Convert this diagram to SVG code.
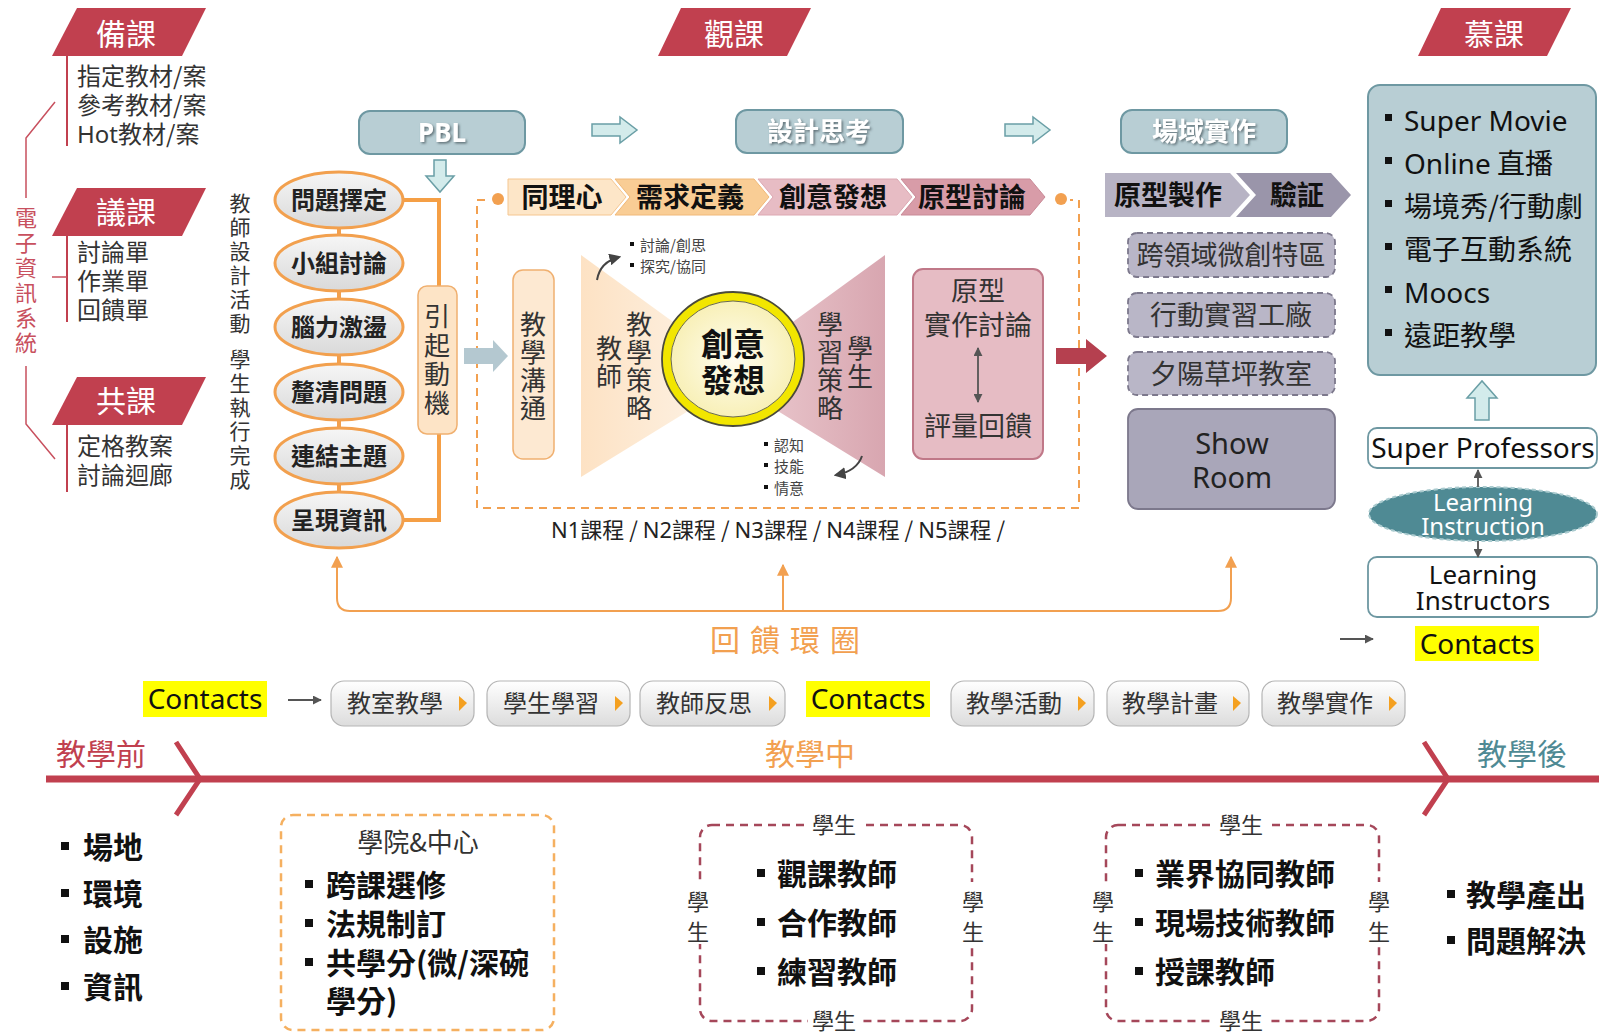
<svg xmlns="http://www.w3.org/2000/svg" width="1599" height="1033" viewBox="0 0 1599 1033">
<defs>
<style>
text{font-family:"Noto Sans CJK TC","Noto Sans",sans-serif;}
.lat{font-family:"Noto Sans","Noto Sans CJK TC",sans-serif;}
.ban{fill:#c1404f;}
.bant{fill:#fff;font-size:30px;text-anchor:middle;}
.rl{stroke:#c1404f;stroke-width:2;fill:none;}
.pl{stroke:#c8505e;stroke-width:1.5;fill:none;}
.lt{font-size:24px;fill:#333;}
.vt{font-size:21px;fill:#333;text-anchor:middle;}
.ell{fill:url(#gEll);stroke:#f2a04e;stroke-width:3;}
.et{font-size:24px;font-weight:bold;fill:#222;text-anchor:middle;}
.teal{fill:#b8ced4;stroke:#6e98a2;stroke-width:2;}
.tt{fill:#fff;font-size:26px;font-weight:bold;text-anchor:middle;filter:url(#sh);}
.harr{fill:#d3ebeb;stroke:#6a9fa6;stroke-width:1.5;}
.chv{font-size:27px;font-weight:bold;fill:#111;text-anchor:middle;}
.dsh{fill:#b9b6c7;stroke:#7c788c;stroke-width:1.8;stroke-dasharray:6 4;}
.dst{font-size:27px;fill:#333;text-anchor:middle;}
.pill{fill:url(#gPill);stroke:#b5b5b5;stroke-width:1.2;}
.pt{font-size:24px;fill:#333;}
.tri{fill:#f4a020;}
.cont{fill:#ffff00;}
.ct{font-size:28px;fill:#111;}
.bl{font-size:30px;font-weight:bold;fill:#111;}
.bu{fill:#111;}
.mbox{fill:none;stroke:#a5475a;stroke-width:2.5;stroke-dasharray:8 6;}
.st{font-size:22px;fill:#333;text-anchor:middle;}
.ol{stroke:#f2a050;stroke-width:2;fill:none;}
.gl{stroke:#555;stroke-width:1.8;fill:none;}
</style>
<linearGradient id="gEll" x1="0" y1="0" x2="0" y2="1"><stop offset="0" stop-color="#f6f6f6"/><stop offset="1" stop-color="#d9d9d9"/></linearGradient>
<linearGradient id="gPill" x1="0" y1="0" x2="0" y2="1"><stop offset="0" stop-color="#ffffff"/><stop offset="1" stop-color="#dcdcdc"/></linearGradient>
<linearGradient id="gL" x1="0" y1="0" x2="1" y2="0"><stop offset="0" stop-color="#fde2c4"/><stop offset="1" stop-color="#fdf0e0"/></linearGradient>
<linearGradient id="gR" x1="0" y1="0" x2="1" y2="0"><stop offset="0" stop-color="#e8c4ca"/><stop offset="1" stop-color="#d8a6b0"/></linearGradient>
<radialGradient id="gC"><stop offset="0" stop-color="#fffdf0"/><stop offset="1" stop-color="#f8f0b8"/></radialGradient>
<filter id="sh" x="-20%" y="-20%" width="140%" height="140%"><feDropShadow dx="1.5" dy="1.5" stdDeviation="1" flood-color="#4a5a60" flood-opacity="0.8"/></filter>
<marker id="mO" viewBox="0 0 10 10" refX="9" refY="5" markerWidth="6" markerHeight="6" orient="auto"><path d="M0,0 L10,5 L0,10 z" fill="#f2a050"/></marker>
<marker id="mG" viewBox="0 0 10 10" refX="9" refY="5" markerWidth="5" markerHeight="5" orient="auto-start-reverse"><path d="M0,0 L10,5 L0,10 z" fill="#555"/></marker>
<marker id="mD" viewBox="0 0 10 10" refX="8" refY="5" markerWidth="6" markerHeight="6" orient="auto"><path d="M0,0 L10,5 L0,10 z" fill="#444"/></marker>
</defs>
<rect width="1599" height="1033" fill="#fff"/>

<!-- Left: banners and lists -->
<g id="beike">
<polygon class="ban" points="77,8 206,8 182,56 52,56"/>
<text class="bant" x="126" y="45">備課</text>
<line class="rl" x1="67" y1="56" x2="67" y2="146"/>
<text class="lt" x="77" y="85">指定教材/案</text>
<text class="lt" x="77" y="114">參考教材/案</text>
<text class="lt lat" x="77" y="143">Hot<tspan style="font-family:'Noto Sans CJK TC',sans-serif">教材/案</tspan></text>
</g>
<g id="yike">
<polygon class="ban" points="77,188 206,188 182,236 52,236"/>
<text class="bant" x="126" y="223">議課</text>
<line class="rl" x1="67" y1="236" x2="67" y2="322"/>
<text class="lt" x="77" y="261">討論單</text>
<text class="lt" x="77" y="290">作業單</text>
<text class="lt" x="77" y="319">回饋單</text>
</g>
<g id="gongke">
<polygon class="ban" points="77,377 206,377 182,425 52,425"/>
<text class="bant" x="126" y="412">共課</text>
<line class="rl" x1="67" y1="425" x2="67" y2="492"/>
<text class="lt" x="77" y="455">定格教案</text>
<text class="lt" x="77" y="484">討論迴廊</text>
</g>
<g id="dianzi">
<path class="pl" d="M55,102 L26,138 V198"/>
<path class="pl" d="M26,366 V424 L55,459"/>
<line class="pl" x1="52" y1="277" x2="67" y2="277"/>
<text style="font-size:22px;fill:#c8505e;text-anchor:middle"><tspan x="26" y="226">電</tspan><tspan x="26" y="251">子</tspan><tspan x="26" y="276">資</tspan><tspan x="26" y="301">訊</tspan><tspan x="26" y="326">系</tspan><tspan x="26" y="351">統</tspan></text>
</g>
<g id="jiaoshi">
<text class="vt"><tspan x="240" y="211">教</tspan><tspan x="240" y="235">師</tspan><tspan x="240" y="259">設</tspan><tspan x="240" y="283">計</tspan><tspan x="240" y="307">活</tspan><tspan x="240" y="331">動</tspan><tspan x="240" y="367">學</tspan><tspan x="240" y="391">生</tspan><tspan x="240" y="415">執</tspan><tspan x="240" y="439">行</tspan><tspan x="240" y="463">完</tspan><tspan x="240" y="487">成</tspan></text>
</g>

<!-- PBL ellipses -->
<g id="pbl-steps">
<path d="M339,228 V235 M339,291 V299 M339,355 V364 M339,420 V428 M339,484 V492" stroke="#f2a04e" stroke-width="4"/>
<path d="M403,200 H439 V520 H403" stroke="#f59f45" stroke-width="4" fill="none"/>
<ellipse class="ell" cx="339" cy="200" rx="64" ry="28"/><text class="et" x="339" y="209">問題擇定</text>
<ellipse class="ell" cx="339" cy="263" rx="64" ry="28"/><text class="et" x="339" y="272">小組討論</text>
<ellipse class="ell" cx="339" cy="327" rx="64" ry="28"/><text class="et" x="339" y="336">腦力激盪</text>
<ellipse class="ell" cx="339" cy="392" rx="64" ry="28"/><text class="et" x="339" y="401">釐清問題</text>
<ellipse class="ell" cx="339" cy="456" rx="64" ry="28"/><text class="et" x="339" y="465">連結主題</text>
<ellipse class="ell" cx="339" cy="520" rx="64" ry="28"/><text class="et" x="339" y="529">呈現資訊</text>
</g>
<g id="yinqi">
<rect x="418" y="286" width="39" height="148" rx="9" fill="#fde4c6" stroke="#f0b070" stroke-width="1.5"/>
<text style="font-size:26px;fill:#333;text-anchor:middle"><tspan x="437" y="326">引</tspan><tspan x="437" y="355">起</tspan><tspan x="437" y="384">動</tspan><tspan x="437" y="413">機</tspan></text>
</g>

<!-- Top teal boxes -->
<g id="pbl">
<rect class="teal" x="359" y="111" width="166" height="43" rx="11"/>
<text class="tt lat" x="442" y="142">PBL</text>
</g>
<g id="sheji">
<rect class="teal" x="736" y="110" width="167" height="43" rx="11"/>
<text class="tt" x="819" y="141">設計思考</text>
</g>
<g id="changyu">
<rect class="teal" x="1121" y="110" width="166" height="43" rx="11"/>
<text class="tt" x="1204" y="141">場域實作</text>
</g>
<g id="kuanke">
<polygon class="ban" points="681,8 811,8 787,56 658,56"/>
<text class="bant" x="734" y="45">觀課</text>
</g>
<g id="muke">
<polygon class="ban" points="1441,8 1571,8 1547,56 1418,56"/>
<text class="bant" x="1494" y="45">慕課</text>
</g>

<!-- Design thinking chevrons -->
<g id="chevrons">
<polygon points="508,179 611,179 626,197 611,215 508,215" fill="#fde6c8" stroke="#f5c690" stroke-width="1"/>
<polygon points="615,179 754,179 769,197 754,215 615,215 630,197" fill="#f9cd95" stroke="#f0b878" stroke-width="1"/>
<polygon points="758,179 897,179 912,197 897,215 758,215 773,197" fill="#e7bcc4" stroke="#dca8b2" stroke-width="1"/>
<polygon points="901,179 1030,179 1045,197 1030,215 901,215 916,197" fill="#d89ca8" stroke="#c98a97" stroke-width="1"/>
<text class="chv" x="562" y="207">同理心</text>
<text class="chv" x="690" y="207">需求定義</text>
<text class="chv" x="833" y="207">創意發想</text>
<text class="chv" x="972" y="207">原型討論</text>
</g>
<g id="frame">
<path d="M485,200 H477 V508 H1079 V200 H1070" fill="none" stroke="#f2a050" stroke-width="2" stroke-dasharray="8 6"/>
<circle cx="498" cy="199" r="6" fill="#f2a050"/>
<circle cx="1061" cy="199" r="6" fill="#f2a050"/>
</g>
<g id="goutong">
<rect x="513" y="270" width="41" height="189" rx="10" fill="#fde9d2" stroke="#f0b070" stroke-width="1.5"/>
<text style="font-size:26px;fill:#333;text-anchor:middle"><tspan x="533" y="334">教</tspan><tspan x="533" y="362">學</tspan><tspan x="533" y="390">溝</tspan><tspan x="533" y="418">通</tspan></text>
</g>
<g id="strategy">
<polygon points="581,255 698,340 698,405 581,477" fill="url(#gL)"/>
<polygon points="885,255 768,340 768,405 885,477" fill="url(#gR)"/>
<text style="font-size:26px;fill:#333;text-anchor:middle"><tspan x="609" y="358">教</tspan><tspan x="609" y="386">師</tspan></text>
<text style="font-size:26px;fill:#333;text-anchor:middle"><tspan x="639" y="334">教</tspan><tspan x="639" y="362">學</tspan><tspan x="639" y="390">策</tspan><tspan x="639" y="418">略</tspan></text>
<text style="font-size:26px;fill:#333;text-anchor:middle"><tspan x="830" y="334">學</tspan><tspan x="830" y="362">習</tspan><tspan x="830" y="390">策</tspan><tspan x="830" y="418">略</tspan></text>
<text style="font-size:26px;fill:#333;text-anchor:middle"><tspan x="860" y="358">學</tspan><tspan x="860" y="386">生</tspan></text>
<rect class="bu" x="630" y="242" width="4" height="4"/><text style="font-size:15px;fill:#444" x="640" y="251">討論/創思</text>
<rect class="bu" x="630" y="263" width="4" height="4"/><text style="font-size:15px;fill:#444" x="640" y="272">探究/協同</text>
<rect class="bu" x="764" y="442" width="4" height="4"/><text style="font-size:15px;fill:#444" x="774" y="451">認知</text>
<rect class="bu" x="764" y="463" width="4" height="4"/><text style="font-size:15px;fill:#444" x="774" y="472">技能</text>
<rect class="bu" x="764" y="485" width="4" height="4"/><text style="font-size:15px;fill:#444" x="774" y="494">情意</text>
<path d="M597,280 Q600,262 619,257" stroke="#444" stroke-width="2" fill="none" marker-end="url(#mD)"/>
<path d="M862,456 Q857,471 836,475" stroke="#444" stroke-width="2" fill="none" marker-end="url(#mD)"/>
</g>
<g id="chuangyi">
<ellipse cx="733" cy="359" rx="71" ry="67" fill="#f2e600" stroke="#4a4a3a" stroke-width="1.8"/>
<ellipse cx="733" cy="359" rx="62" ry="58" fill="url(#gC)" stroke="#6a6a50" stroke-width="1"/>
<text style="font-size:32px;font-weight:bold;fill:#111;text-anchor:middle"><tspan x="733" y="356">創意</tspan><tspan x="733" y="392">發想</tspan></text>
</g>
<g id="yuanxing">
<rect x="913" y="269" width="130" height="190" rx="10" fill="#e6bcc4" stroke="#c07888" stroke-width="2"/>
<text style="font-size:27px;fill:#333;text-anchor:middle"><tspan x="978" y="301">原型</tspan><tspan x="978" y="335">實作討論</tspan><tspan x="978" y="436">評量回饋</tspan></text>
<line x1="978" y1="348" x2="978" y2="402" stroke="#555" stroke-width="1.8" marker-start="url(#mG)" marker-end="url(#mG)"/>
</g>
<text id="ncourse" style="font-size:22px;fill:#222;text-anchor:middle" x="778" y="538"><tspan class="lat">N1</tspan>課程 / <tspan class="lat">N2</tspan>課程 / <tspan class="lat">N3</tspan>課程 / <tspan class="lat">N4</tspan>課程 / <tspan class="lat">N5</tspan>課程 /</text>

<!-- Right middle column -->
<g id="zhizuo">
<polygon points="1105,173 1230,173 1250,195 1230,217 1105,217" fill="#b7b3c4"/>
<polygon points="1236,173 1331,173 1351,195 1331,217 1236,217 1256,195" fill="#9a95aa"/>
<text class="chv" x="1168" y="205">原型製作</text>
<text class="chv" x="1297" y="205">驗証</text>
</g>
<g id="kualingyu"><rect class="dsh" x="1128" y="233" width="207" height="44" rx="9"/><text class="dst" x="1231" y="265">跨領域微創特區</text></g>
<g id="xingdong"><rect class="dsh" x="1128" y="293" width="207" height="44" rx="9"/><text class="dst" x="1231" y="325">行動實習工廠</text></g>
<g id="xiyang"><rect class="dsh" x="1128" y="352" width="207" height="43" rx="9"/><text class="dst" x="1231" y="384">夕陽草坪教室</text></g>
<g id="showroom"><rect x="1128" y="409" width="207" height="100" rx="10" fill="#a9a6b9" stroke="#7c788c" stroke-width="1.8"/>
<text class="lat" style="font-size:29px;fill:#222;text-anchor:middle"><tspan x="1232" y="454">Show</tspan><tspan x="1232" y="488">Room</tspan></text></g>

<!-- Right column -->
<g id="mooc-box">
<rect x="1368" y="85" width="228" height="290" rx="12" fill="#b8ced4" stroke="#6e98a2" stroke-width="2"/>
<g style="font-size:28px;fill:#111">
<rect x="1385" y="114" width="7" height="7" fill="#111"/><text class="lat" x="1404" y="131">Super Movie</text>
<rect x="1385" y="157" width="7" height="7" fill="#111"/><text x="1404" y="174"><tspan class="lat">Online</tspan> 直播</text>
<rect x="1385" y="200" width="7" height="7" fill="#111"/><text x="1404" y="217">場境秀/行動劇</text>
<rect x="1385" y="243" width="7" height="7" fill="#111"/><text x="1404" y="260">電子互動系統</text>
<rect x="1385" y="286" width="7" height="7" fill="#111"/><text class="lat" x="1404" y="303">Moocs</text>
<rect x="1385" y="329" width="7" height="7" fill="#111"/><text x="1404" y="346">遠距教學</text>
</g>
</g>
<g id="superprof">
<rect x="1368" y="428" width="229" height="40" rx="9" fill="#fff" stroke="#6e98a2" stroke-width="1.8"/>
<text class="lat" style="font-size:28px;fill:#111;text-anchor:middle" x="1483" y="458">Super Professors</text>
</g>
<g id="learning-instruction">
<ellipse cx="1483" cy="514" rx="114" ry="27" fill="#4f8a94" stroke="#a9cace" stroke-width="2" stroke-dasharray="4 3"/>
<text class="lat" style="font-size:24px;fill:#fff;text-anchor:middle"><tspan x="1483" y="511">Learning</tspan><tspan x="1483" y="535">Instruction</tspan></text>
</g>
<g id="learning-instructors">
<rect x="1368" y="557" width="229" height="60" rx="9" fill="#fff" stroke="#6e98a2" stroke-width="1.8"/>
<text class="lat" style="font-size:26px;fill:#111;text-anchor:middle"><tspan x="1483" y="584">Learning</tspan><tspan x="1483" y="610">Instructors</tspan></text>
</g>
<g id="contacts-r">
<rect class="cont" x="1415" y="626" width="124" height="35"/>
<text class="ct lat" x="1477" y="654" text-anchor="middle">Contacts</text>
</g>

<!-- Connectors -->
<g id="connectors">
<polygon class="harr" points="434,160 446,160 446,176 454,176 440,192 426,176 434,176"/>
<polygon class="harr" points="592,124 620,124 620,117 637,130 620,143 620,136 592,136"/>
<polygon class="harr" points="1005,124 1033,124 1033,117 1050,130 1033,143 1033,136 1005,136"/>
<polygon class="harr" points="1475,420 1489,420 1489,398 1497,398 1482,381 1467,398 1475,398"/>
<polygon points="464,348 493,348 493,340 508,356 493,372 493,364 464,364" fill="#b4c8d0"/>
<polygon points="1056,348 1086,348 1086,339 1107,356 1086,373 1086,364 1056,364" fill="#b5404f"/>
<line class="gl" x1="1478" y1="487" x2="1478" y2="470" marker-end="url(#mG)"/>
<line class="gl" x1="1478" y1="541" x2="1478" y2="557" marker-end="url(#mG)"/>
<line class="gl" x1="1340" y1="639" x2="1373" y2="639" marker-end="url(#mG)"/>
<line class="gl" x1="288" y1="700" x2="321" y2="700" marker-end="url(#mG)"/>
<path class="ol" d="M783,611 H350 Q337,611 337,598 V557" marker-end="url(#mO)"/>
<path class="ol" d="M783,611 H1218 Q1231,611 1231,598 V557" marker-end="url(#mO)"/>
<path class="ol" d="M783,611 V565" marker-end="url(#mO)"/>
</g>
<text id="huikui" style="font-size:30px;fill:#f2a050;text-anchor:middle;letter-spacing:10px" x="790" y="651">回饋環圈</text>

<!-- Bottom pill row -->
<g id="contacts-l"><rect class="cont" x="143" y="681" width="124" height="36"/><text class="ct lat" x="205" y="709" text-anchor="middle">Contacts</text></g>
<g id="contacts-m"><rect class="cont" x="806" y="681" width="124" height="36"/><text class="ct lat" x="868" y="709" text-anchor="middle">Contacts</text></g>
<g id="pill1"><rect class="pill" x="331" y="681" width="143" height="45" rx="13"/><text class="pt" x="347" y="712">教室教學</text><polygon class="tri" points="459,696 467,703 459,711"/></g>
<g id="pill2"><rect class="pill" x="487" y="681" width="143" height="45" rx="13"/><text class="pt" x="503" y="712">學生學習</text><polygon class="tri" points="615,696 623,703 615,711"/></g>
<g id="pill3"><rect class="pill" x="640" y="681" width="145" height="45" rx="13"/><text class="pt" x="656" y="712">教師反思</text><polygon class="tri" points="769,696 777,703 769,711"/></g>
<g id="pill4"><rect class="pill" x="951" y="681" width="143" height="45" rx="13"/><text class="pt" x="966" y="712">教學活動</text><polygon class="tri" points="1078,696 1086,703 1078,711"/></g>
<g id="pill5"><rect class="pill" x="1107" y="681" width="142" height="45" rx="13"/><text class="pt" x="1122" y="712">教學計畫</text><polygon class="tri" points="1233,696 1241,703 1233,711"/></g>
<g id="pill6"><rect class="pill" x="1262" y="681" width="143" height="45" rx="13"/><text class="pt" x="1277" y="712">教學實作</text><polygon class="tri" points="1389,696 1397,703 1389,711"/></g>

<!-- Timeline -->
<g id="timeline">
<line x1="46" y1="779" x2="1599" y2="779" stroke="#c1404f" stroke-width="7"/>
<path d="M176,742 L200,779 L176,815" stroke="#c1404f" stroke-width="5" fill="none"/>
<path d="M1424,742 L1448,779 L1424,815" stroke="#c1404f" stroke-width="5" fill="none"/>
<text x="56" y="765" style="font-size:30px;fill:#c1404f">教學前</text>
<text x="810" y="765" style="font-size:30px;fill:#f2a050;text-anchor:middle">教學中</text>
<text x="1477" y="765" style="font-size:30px;fill:#4f8a94">教學後</text>
</g>

<!-- Bottom lists -->
<g id="before-list" class="bl">
<rect class="bu" x="61" y="842" width="8" height="8"/><text x="83" y="858">場地</text>
<rect class="bu" x="61" y="889" width="8" height="8"/><text x="83" y="905">環境</text>
<rect class="bu" x="61" y="935" width="8" height="8"/><text x="83" y="951">設施</text>
<rect class="bu" x="61" y="982" width="8" height="8"/><text x="83" y="998">資訊</text>
</g>
<g id="college">
<rect x="281" y="815" width="273" height="215" rx="12" fill="none" stroke="#f5b060" stroke-width="2.5" stroke-dasharray="8 6"/>
<text x="418" y="852" style="font-size:26px;fill:#333;text-anchor:middle">學院&amp;中心</text>
<rect class="bu" x="305" y="880" width="8" height="8"/><text class="bl" x="326" y="896">跨課選修</text>
<rect class="bu" x="305" y="919" width="8" height="8"/><text class="bl" x="326" y="935">法規制訂</text>
<rect class="bu" x="305" y="958" width="8" height="8"/><text class="bl" x="326" y="974">共學分(微/深碗</text>
<text class="bl" x="326" y="1012">學分)</text>
</g>
<g id="box-obs">
<rect class="mbox" x="700" y="825" width="272" height="196" rx="12"/>
<rect x="808" y="812" width="52" height="26" fill="#fff"/><rect x="808" y="1008" width="52" height="26" fill="#fff"/>
<rect x="686" y="882" width="26" height="62" fill="#fff"/><rect x="960" y="882" width="26" height="62" fill="#fff"/>
<text class="st" x="834" y="833">學生</text><text class="st" x="834" y="1029">學生</text>
<text class="st"><tspan x="698" y="910">學</tspan><tspan x="698" y="940">生</tspan></text>
<text class="st"><tspan x="973" y="910">學</tspan><tspan x="973" y="940">生</tspan></text>
<rect class="bu" x="757" y="869" width="8" height="8"/><text class="bl" x="777" y="885">觀課教師</text>
<rect class="bu" x="757" y="918" width="8" height="8"/><text class="bl" x="777" y="934">合作教師</text>
<rect class="bu" x="757" y="967" width="8" height="8"/><text class="bl" x="777" y="983">練習教師</text>
</g>
<g id="box-ind">
<rect class="mbox" x="1106" y="825" width="273" height="196" rx="12"/>
<rect x="1215" y="812" width="52" height="26" fill="#fff"/><rect x="1215" y="1008" width="52" height="26" fill="#fff"/>
<rect x="1092" y="882" width="26" height="62" fill="#fff"/><rect x="1366" y="882" width="26" height="62" fill="#fff"/>
<text class="st" x="1241" y="833">學生</text><text class="st" x="1241" y="1029">學生</text>
<text class="st"><tspan x="1103" y="910">學</tspan><tspan x="1103" y="940">生</tspan></text>
<text class="st"><tspan x="1379" y="910">學</tspan><tspan x="1379" y="940">生</tspan></text>
<rect class="bu" x="1135" y="869" width="8" height="8"/><text class="bl" x="1155" y="885">業界協同教師</text>
<rect class="bu" x="1135" y="918" width="8" height="8"/><text class="bl" x="1155" y="934">現場技術教師</text>
<rect class="bu" x="1135" y="967" width="8" height="8"/><text class="bl" x="1155" y="983">授課教師</text>
</g>
<g id="after-list" class="bl">
<rect class="bu" x="1447" y="890" width="8" height="8"/><text x="1466" y="906">教學產出</text>
<rect class="bu" x="1447" y="936" width="8" height="8"/><text x="1466" y="952">問題解決</text>
</g>
</svg>
